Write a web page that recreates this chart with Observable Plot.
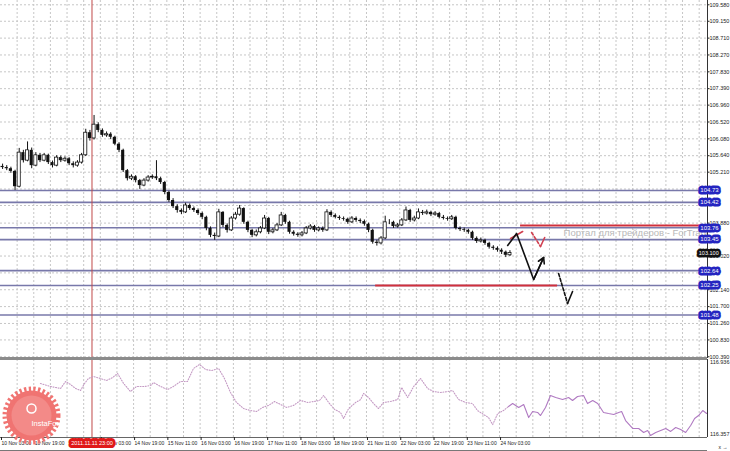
<!DOCTYPE html>
<html><head><meta charset="utf-8">
<script src="https://cdn.jsdelivr.net/npm/d3@7"></script>
<script src="https://cdn.jsdelivr.net/npm/@observablehq/plot@0.6"></script>
<style>
html,body{margin:0;padding:0;background:#fff;}
#chart{width:730px;height:451px;overflow:hidden;position:relative;}
#chart svg{display:block;}
</style></head><body><div id="chart"></div>
<script>
// ---- price data: 2-hour candles, bar index = hours since 10 Nov 03:00 ----
const firstOpen = 105.36;
const closes = [105.33,105.30,105.23,104.83,105.72,105.51,105.78,105.38,105.65,105.51,
105.65,105.46,105.38,105.59,105.51,105.56,105.43,105.38,105.46,105.65,
106.24,106.09,106.45,106.30,106.17,106.20,106.12,105.94,105.78,105.25,
105.04,105.09,104.99,104.86,104.99,105.07,105.09,105.04,104.94,104.68,
104.47,104.31,104.21,104.16,104.34,104.26,104.21,104.13,104.03,103.74,
103.56,103.53,104.16,103.82,103.69,104.00,104.10,104.26,103.90,103.69,
103.56,103.64,103.74,104.00,103.64,103.69,103.82,104.08,103.90,103.64,
103.59,103.56,103.61,103.74,103.79,103.69,103.74,103.69,104.16,104.08,
104.03,104.00,103.98,103.90,104.00,103.95,103.92,103.85,103.69,103.38,
103.35,103.48,103.90,103.90,103.79,103.82,103.95,104.21,103.95,104.00,
104.16,104.13,104.16,104.10,104.13,104.03,104.00,103.98,104.03,103.74,
103.71,103.69,103.64,103.48,103.40,103.43,103.35,103.25,103.22,103.17,
103.12,103.04,103.10];
const highs = [105.42,105.38,105.34,105.26,105.83,105.78,106.00,105.84,105.72,105.70,
105.70,105.68,105.50,105.64,105.63,105.61,105.59,105.48,105.51,105.70,
106.33,106.30,106.69,106.50,106.34,106.26,106.24,106.15,105.98,105.81,
105.28,105.14,105.12,105.02,105.04,105.12,105.14,105.51,105.08,104.97,
104.71,104.52,104.36,104.25,104.40,104.38,104.30,104.25,104.17,104.06,
103.78,103.62,104.24,104.18,103.86,104.05,104.16,104.34,104.28,103.93,
103.72,103.70,103.79,104.08,104.03,103.74,103.87,104.16,104.11,103.93,
103.68,103.63,103.66,103.79,103.84,103.82,103.78,103.78,104.23,104.20,
104.12,104.07,104.04,104.01,104.05,104.04,103.99,103.96,103.88,103.72,
103.43,103.53,104.06,103.97,103.93,103.87,104.00,104.30,104.24,104.06,
104.25,104.21,104.22,104.19,104.18,104.16,104.08,104.04,104.08,104.06,
103.78,103.75,103.72,103.67,103.52,103.49,103.46,103.38,103.29,103.26,
103.21,103.15,103.16];
const lows = [105.28,105.25,105.18,104.73,104.80,105.45,105.48,105.30,105.35,105.46,
105.48,105.41,105.32,105.35,105.46,105.47,105.38,105.32,105.34,105.42,
105.62,106.02,106.05,106.24,106.12,106.12,106.06,105.90,105.72,105.20,
104.98,104.99,104.93,104.76,104.83,104.95,105.02,104.99,104.89,104.62,
104.42,104.26,104.14,104.10,104.13,104.21,104.16,104.08,103.97,103.68,
103.50,103.43,103.50,103.76,103.62,103.66,103.96,104.06,103.85,103.63,
103.50,103.52,103.60,103.71,103.58,103.60,103.66,103.79,103.85,103.59,
103.54,103.51,103.52,103.58,103.70,103.64,103.65,103.64,103.66,104.03,
103.99,103.95,103.93,103.85,103.87,103.90,103.87,103.80,103.63,103.33,
103.28,103.31,103.45,103.84,103.74,103.75,103.79,103.92,103.90,103.91,
103.97,104.08,104.09,104.05,104.06,103.99,103.96,103.93,103.95,103.70,
103.66,103.64,103.59,103.43,103.35,103.36,103.30,103.20,103.17,103.12,
103.06,102.98,103.01];

// ---- price axis ----
const yTicks = [109.58,109.15,108.71,108.27,107.83,107.39,106.96,106.52,106.08,105.64,105.21,
104.77,104.34,103.88,103.45,103.02,102.58,102.14,101.70,101.26,100.83,100.39];

// ---- horizontal levels ----
const levels = [104.73,104.42,103.76,103.45,102.64,102.25,101.48];
const redLevelY = [103.82,102.25];
const redLevelFrom = [250.1,180.4];
const redLevelTo = [339.1,267.9];

// ---- time axis ----
const xTickIdx = [0,16,32,48,64,80,96,112,128,144,160,176,192,208,224,240];
const xTickLabels = ["10 Nov 03:00","10 Nov 19:00","11 Nov 11:00","14 Nov 03:00","14 Nov 19:00",
"15 Nov 11:00","16 Nov 03:00","16 Nov 19:00","17 Nov 11:00","18 Nov 03:00","18 Nov 19:00",
"21 Nov 11:00","22 Nov 03:00","22 Nov 19:00","23 Nov 11:00","24 Nov 03:00"];
const gridStep = 8;
const crosshairBar = 44;
const crosshairLabel = "2011.11.11 23:00";

// ---- forecast annotations ----
const blackPathX = [243.9,248.2,256.4,261.2];
const blackPathY = [103.295,103.608,102.407,102.982];
const redPathX = [245.3,251.1];
const redPathY = [103.478,103.661];
const redDashX = [255.4,259.7];
const redDashY = [103.635,103.269];
const redHookX = [259.7,261.7];
const redHookY = [103.269,103.504];
const blackDashX = [268.4,272.7];
const blackDashY = [102.564,101.781];
const blackHookX = [272.7,275.1];
const blackHookY = [101.781,102.094];

const watermarkText = "Портал для трейдеров - ForTrader.ru";
const watermarkX = 270.8;
const watermarkY = 103.63;

// ---- indicator pane ----
const indX = [19.2,24.0,28.9,31.3,33.7,36.1,38.5,40.4,42.3,44.7,48.1,51.0,53.9,56.3,59.2,62.5,65.4,69.3,72.2,73.6,
77.0,80.3,83.2,86.6,89.9,92.8,95.7,98.6,101.5,104.9,107.7,110.6,113.5,116.9,120.3,123.1,126.0,128.9,131.8,134.7,
137.6,140.9,144.3,147.7,150.6,153.4,155.4,157.8,160.7,163.5,165.0,167.4,170.8,173.2,174.6,177.0,179.4,181.8,184.2,187.6,
191.0,192.9,195.8,198.7,202.0,205.4,208.3,211.6,215.0,217.4,220.3,223.7,227.0,229.4,232.3,234.7,236.7,239.1,241.9,244.3,
246.3,249.2,251.6,254.0,255.9,258.3,259.7,262.1,264.5,267.0,270.3,273.2,275.1,277.5,280.4,282.3,284.8,287.2,290.0,292.4,
294.9,297.3,298.7,300.6,304.0,306.9,309.3,311.2,312.6,315.1,317.5,319.9,322.3,324.7,327.1,329.5,331.9,333.8,335.7,337.7,339.6];
const indV = [116.758,116.736,116.721,116.773,116.750,116.721,116.706,116.758,116.795,116.810,
116.795,116.780,116.802,116.832,116.758,116.698,116.736,116.736,116.743,116.765,
116.736,116.713,116.736,116.773,116.773,116.869,116.899,116.862,116.854,116.869,
116.795,116.691,116.617,116.572,116.557,116.550,116.580,116.595,116.624,116.602,
116.580,116.595,116.632,116.617,116.624,116.632,116.669,116.617,116.565,116.543,
116.498,116.572,116.617,116.639,116.684,116.654,116.609,116.572,116.617,116.624,
116.639,116.728,116.654,116.736,116.795,116.721,116.698,116.691,116.698,116.706,
116.639,116.617,116.609,116.557,116.528,116.505,116.453,116.535,116.557,116.587,
116.609,116.580,116.602,116.505,116.550,116.543,116.520,116.580,116.669,116.654,
116.639,116.654,116.632,116.661,116.669,116.609,116.632,116.609,116.543,116.535,
116.528,116.543,116.550,116.483,116.424,116.424,116.394,116.409,116.372,116.394,
116.409,116.424,116.402,116.431,116.416,116.394,116.446,116.498,116.520,116.557,116.535];
const indSolidFrom = 244.3;
const indRange = [116.357,116.936];

// ---- build ----
const FONT = "'Liberation Sans',Arial,sans-serif";
const xDomain = [0, 340];
const candles = closes.map((c, i) => ({t: 1 + 2 * i, o: i === 0 ? firstOpen : closes[i - 1], c, h: highs[i], l: lows[i]}));
const up = candles.filter(d => d.c >= d.o);
const down = candles.filter(d => d.c < d.o);
const gridX = d3.range(gridStep, xDomain[1], gridStep);
const pts = (xs, ys) => xs.map((x, i) => ({x, y: ys[i]}));
const redSegs = redLevelY.map((y, i) => ({y, x1: redLevelFrom[i], x2: redLevelTo[i]}));
const lastClose = closes[closes.length - 1];
const xLabelMap = new Map(xTickIdx.map((d, i) => [d, xTickLabels[i]]));
const ind = indX.map((x, i) => ({x, y: indV[i]}));
const indDotted = ind.filter(d => d.x <= indSolidFrom);
const indSolid = ind.filter(d => d.x >= indSolidFrom);
// tick labels hidden behind the level boxes (as in the terminal) are not written
const yTickLabelled = yTicks.filter(t => !levels.some(l => Math.abs(l - t) < 0.1));
// time label fully hidden behind the crosshair date box
const xTickLabelled = xTickIdx.filter(t => !(t >= crosshairBar - 12 && t < crosshairBar));

const style = {fontFamily: FONT, fontSize: "5.5px", background: "white", color: "#222", overflow: "visible"};

const main = Plot.plot({
  width: 730, height: 358, marginLeft: 0, marginRight: 23, marginTop: 0, marginBottom: 0,
  x: {domain: xDomain, axis: null},
  y: {domain: [100.345, 109.692], axis: null},
  style,
  marks: [
    Plot.ruleY(yTicks, {stroke: "#c6c6c6", strokeDasharray: "2,2"}),
    Plot.ruleX(gridX, {stroke: "#c6c6c6", strokeDasharray: "2,2"}),
    Plot.ruleY(levels, {stroke: "#7878aa", strokeWidth: 1.6}),
    Plot.ruleX([crosshairBar], {stroke: "#c04848", strokeWidth: 1}),
    Plot.ruleY(redSegs, {y: "y", x1: "x1", x2: "x2", stroke: "#d0303c", strokeWidth: 2}),
    Plot.text([{x: watermarkX, y: watermarkY, t: watermarkText}], {x: "x", y: "y", text: "t", textAnchor: "start", fill: "#b8b8b8", fontSize: 9.5, clip: true}),
    Plot.ruleX(candles, {x: "t", y1: "l", y2: "h", stroke: "#111", strokeWidth: 1}),
    Plot.rect(down, {x1: d => d.t - 0.75, x2: d => d.t + 0.75, y1: "o", y2: "c", fill: "#111"}),
    Plot.rect(up, {x1: d => d.t - 0.75, x2: d => d.t + 0.75, y1: "o", y2: "c", fill: "#fff", stroke: "#111", strokeWidth: 0.8}),
    Plot.line(pts(redPathX, redPathY), {x: "x", y: "y", stroke: "#d04050", strokeWidth: 1.6}),
    Plot.line(pts(redDashX, redDashY), {x: "x", y: "y", stroke: "#d04050", strokeWidth: 1.6, strokeDasharray: "3,2"}),
    Plot.line(pts(redHookX, redHookY), {x: "x", y: "y", stroke: "#d04050", strokeWidth: 1.6}),
    Plot.line(pts(blackPathX, blackPathY), {x: "x", y: "y", stroke: "#111", strokeWidth: 1.6}),
    Plot.arrow([{x1: blackPathX[2], y1: blackPathY[2], x2: blackPathX[3], y2: blackPathY[3]}], {x1: "x1", y1: "y1", x2: "x2", y2: "y2", stroke: "#111", strokeWidth: 1.6, headLength: 6}),
    Plot.line(pts(blackDashX, blackDashY), {x: "x", y: "y", stroke: "#111", strokeWidth: 1.6, strokeDasharray: "3,2"}),
    Plot.line(pts(blackHookX, blackHookY), {x: "x", y: "y", stroke: "#111", strokeWidth: 1.6}),
    Plot.axisY(yTickLabelled, {anchor: "right", tickFormat: d => d.toFixed(3), tickSize: 1.5, tickPadding: 0.5, fontSize: 5.5}),
    Plot.ruleX([xDomain[1]], {stroke: "#333"}),
    Plot.text(levels, {y: d => d, frameAnchor: "right", dx: 11.2, text: d => d.toFixed(2), fill: "white", stroke: "#2424c0", strokeWidth: 5, fontSize: 6}),
    Plot.text([lastClose], {y: d => d, frameAnchor: "right", dx: 11.2, text: d => d.toFixed(3), fill: "white", stroke: "#111", strokeWidth: 5, fontSize: 5.5})
  ]
});

const pane = Plot.plot({
  width: 730, height: 93, marginLeft: 0, marginRight: 23, marginTop: 1, marginBottom: 14,
  x: {domain: xDomain, axis: null},
  y: {domain: indRange, axis: null},
  style,
  marks: [
    Plot.ruleX(gridX, {stroke: "#c6c6c6", strokeDasharray: "2,2"}),
    Plot.ruleX([crosshairBar], {stroke: "#c04848", strokeWidth: 1}),
    Plot.line(indDotted, {x: "x", y: "y", stroke: "#c49ac4", strokeWidth: 1.1, strokeDasharray: "1,1.6"}),
    Plot.line(indSolid, {x: "x", y: "y", stroke: "#b07ac2", strokeWidth: 1.1}),
    Plot.ruleX([xDomain[1]], {stroke: "#333"}),
    Plot.ruleY([indRange[1]], {stroke: "#8c8c8c", strokeWidth: 3, dy: -1}),
    Plot.ruleY([indRange[0]], {stroke: "#666", strokeWidth: 1}),
    Plot.ruleY([indRange[0]], {stroke: "#777", strokeWidth: 1, dy: 13}),
    Plot.text([indRange[1]], {y: d => d, frameAnchor: "right", dx: 2.5, dy: 3, textAnchor: "start", text: d => d.toFixed(3), fontSize: 5.5}),
    Plot.text([indRange[0]], {y: d => d, frameAnchor: "right", dx: 2.5, dy: -3, textAnchor: "start", text: d => d.toFixed(3), fontSize: 5.5}),
    Plot.axisX(xTickLabelled, {anchor: "bottom", tickFormat: d => xLabelMap.get(d), textAnchor: "start", tickSize: 3, tickPadding: 1, fontSize: 5, dx: 1}),
    Plot.text([crosshairLabel], {x: () => crosshairBar, frameAnchor: "bottom", dy: 7, text: d => d, fill: "white", stroke: "#e01818", strokeWidth: 6, fontSize: 5.5}),
    Plot.dot([0], {frameAnchor: "bottom-left", dx: 31, dy: -22, r: 25, fill: "#f07472", stroke: "#f07472", strokeWidth: 8, strokeDasharray: "2.2,2.2"}),
    Plot.dot([0], {frameAnchor: "bottom-left", dx: 31, dy: -22, r: 20, fill: "#f38a88"}),
    Plot.dot([0], {frameAnchor: "bottom-left", dx: 31, dy: -29, r: 4.5, fill: "none", stroke: "white", strokeWidth: 1.5}),
    Plot.text(["InstaForex"], {frameAnchor: "bottom-left", dx: 31, dy: -12, text: d => d, fill: "white", fontSize: 7.5})
  ]
});

const root = document.getElementById("chart");
root.appendChild(main);
root.appendChild(pane);
</script>
</body></html>
